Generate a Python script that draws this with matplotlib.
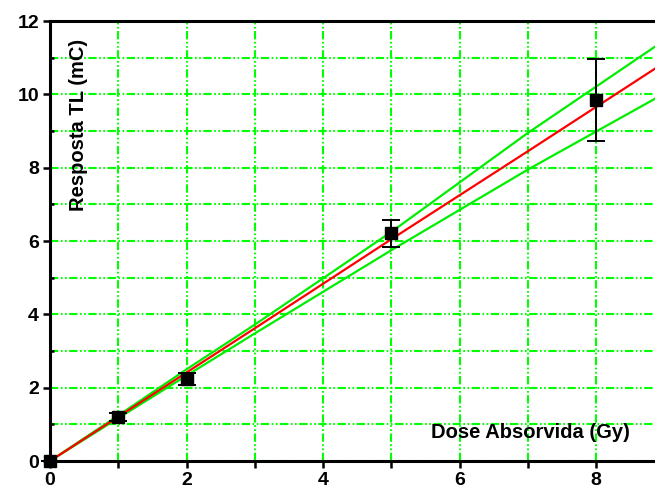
import matplotlib
matplotlib.use("Agg")
import matplotlib.pyplot as plt
import numpy as np

# Data
dose = [0, 1, 2, 5, 8]
resp = [0.0, 1.20, 2.24, 6.21, 9.84]
resp_err = [0.0, 0.12, 0.17, 0.37, 1.12]

fit_x = [0, 1, 2, 3, 5, 7, 8.86]
fit_y = [0, 1.207, 2.414, 3.62, 6.05, 8.45, 10.70]
upper_y = [0, 1.24, 2.50, 3.72, 6.25, 8.95, 11.30]
lower_y = [0, 1.17, 2.33, 3.48, 5.75, 7.95, 9.88]

xticks = [0, 2, 4, 6, 8]
yticks = [0, 2, 4, 6, 8, 10, 12]

plt.rcParams['font.family'] = ['Liberation Sans', 'DejaVu Sans']

fig = plt.figure(figsize=(6.55, 4.93), dpi=100)
ax = fig.add_axes([50/655, 32/493, 605/655, 440/493])
ax.set_xlim(0, 8.86)
ax.set_ylim(0, 12)

grid_style = dict(color='#00ff00', linewidth=1.5, linestyle=(0, (4, 1.2, 0.8, 1.2, 0.8, 1.2)), zorder=1)
ax.set_xticks(xticks)
ax.set_yticks(yticks)
ax.set_xticks([1, 3, 5, 7], minor=True)
ax.set_yticks([1, 3, 5, 7, 9, 11], minor=True)
ax.grid(True, which='both', **grid_style)
ax.set_axisbelow(True)

ax.plot(fit_x, upper_y, color='#00ee00', lw=1.6, zorder=3)
ax.plot(fit_x, lower_y, color='#00ee00', lw=1.6, zorder=3)
ax.plot(fit_x, fit_y, color='red', lw=1.6, zorder=4)

ax.errorbar(dose, resp, yerr=resp_err, fmt='s', color='black', ms=8,
            elinewidth=1.4, capsize=6.8, capthick=1.4, zorder=5, clip_on=False)

for s in ['left', 'bottom', 'top']:
    ax.spines[s].set_linewidth(2.2)
    ax.spines[s].set_color('black')
ax.spines['right'].set_visible(False)

ax.tick_params(axis='both', which='major', direction='out', length=5, width=1.8,
               labelsize=14, pad=3)
ax.tick_params(axis='x', which='major', pad=3)
ax.tick_params(axis='x', which='minor', direction='out', length=5, width=1.8)
ax.tick_params(axis='y', which='minor', direction='in', length=3, width=1.8)
for lab in ax.get_xticklabels() + ax.get_yticklabels():
    lab.set_fontweight('bold')

ax.text(78, 493 - 125, 'Resposta TL (mC)', transform=None, rotation=90, fontsize=14.5,
        fontweight='bold', ha='center', va='center')
ax.text(530, 493 - 432, 'Dose Absorvida (Gy)', transform=None, fontsize=14.5,
        fontweight='bold', ha='center', va='center')

fig.savefig('out.png', dpi=100)
